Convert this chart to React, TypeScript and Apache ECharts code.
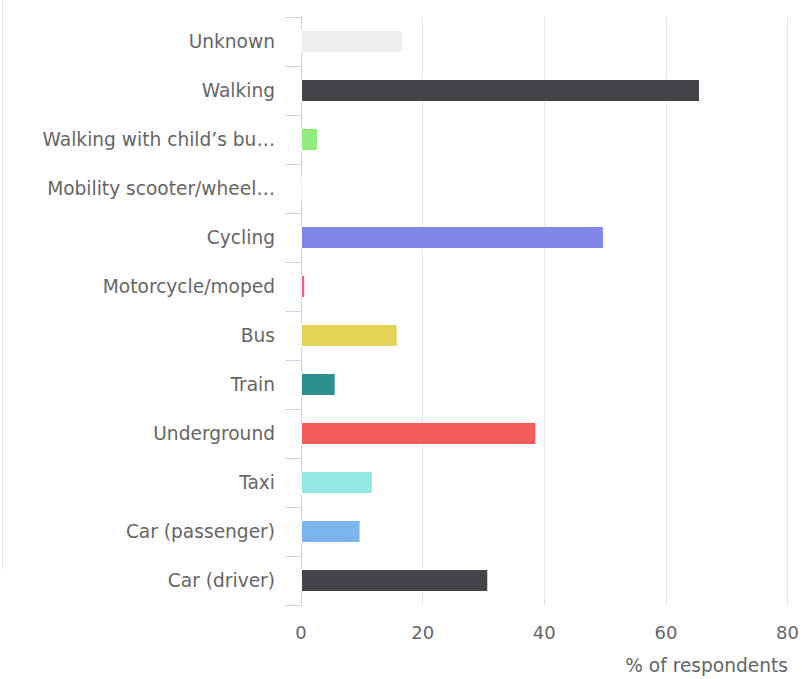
import React, { useEffect, useRef } from "react";
import * as echarts from "echarts";

const categories = [
  "Unknown",
  "Walking",
  "Walking with child’s bu…",
  "Mobility scooter/wheel…",
  "Cycling",
  "Motorcycle/moped",
  "Bus",
  "Train",
  "Underground",
  "Taxi",
  "Car (passenger)",
  "Car (driver)",
];

const values = [16.7, 65.6, 2.8, 0, 49.8, 0.7, 15.9, 5.7, 38.7, 11.8, 9.8, 30.8];

const colors = [
  "#eeeeee",
  "#434348",
  "#90ed7d",
  "#f7a35c",
  "#8085e9",
  "#f15c80",
  "#e4d354",
  "#2b908f",
  "#f45b5b",
  "#91e8e1",
  "#7cb5ec",
  "#434348",
];

const xTicks = [0, 20, 40, 60, 80];
const axisName = "% of respondents";

export default function App() {
  const ref = useRef<HTMLDivElement>(null);
  useEffect(() => {
    if (!ref.current) return;
    const chart = echarts.init(ref.current, undefined, { renderer: "svg" });
    const font = "DejaVu Sans";
    chart.setOption({
      animation: false,
      grid: { left: 301, right: 13, top: 17, bottom: 74 },
      xAxis: {
        type: "value",
        min: xTicks[0],
        max: xTicks[xTicks.length - 1],
        interval: 20,
        axisLine: { show: false },
        axisTick: { show: false },
        splitLine: { lineStyle: { color: "#e6e6e6", width: 1 } },
        axisLabel: {
          color: "#666666",
          fontSize: 18,
          fontFamily: font,
          margin: 18,
        },
      },
      yAxis: {
        type: "category",
        inverse: true,
        data: categories,
        axisLine: { show: true, lineStyle: { color: "#ccd6eb", width: 1 } },
        axisTick: { show: true, length: 16, lineStyle: { color: "#ccd6eb" } },
        axisLabel: {
          color: "#666666",
          fontSize: 18.6,
          fontFamily: font,
          margin: 26,
        },
        splitLine: { show: false },
      },
      series: [
        {
          type: "bar",
          data: values.map((v, i) => ({ value: v, itemStyle: { color: colors[i] } })),
          barWidth: 23,
          itemStyle: { borderColor: "#ffffff", borderWidth: 1 },
        },
      ],
      graphic: [
        {
          type: "line",
          shape: { x1: 2.5, y1: 0, x2: 2.5, y2: 570 },
          style: { stroke: "#e6e6e6", lineWidth: 1 },
        },
        {
          type: "text",
          right: 14,
          top: 656,
          style: {
            text: axisName,
            fill: "#666666",
            font: `18.6px "${font}"`,
          },
        },
      ],
    });
    return () => chart.dispose();
  }, []);
  return (
    <div
      ref={ref}
      style={{ position: "absolute", left: 0, top: 0, width: 802, height: 679 }}
    />
  );
}
